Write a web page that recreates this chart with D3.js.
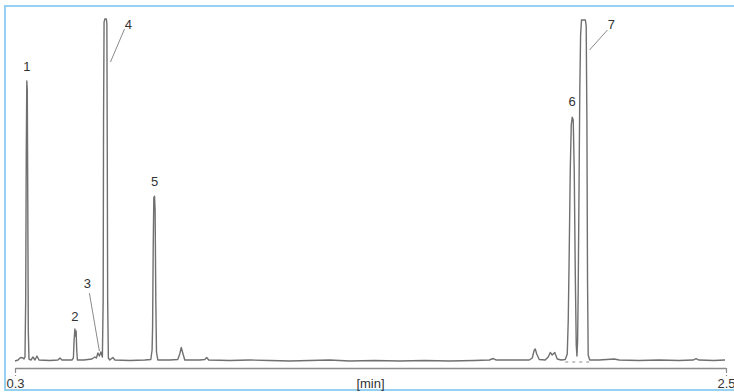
<!DOCTYPE html>
<html>
<head>
<meta charset="utf-8">
<script src="https://cdn.jsdelivr.net/npm/d3@7/dist/d3.min.js"></script>
<style>
  html, body { margin: 0; padding: 0; background: #ffffff; }
  svg { display: block; }
  text { font-family: "Liberation Sans", Arial, sans-serif; }
</style>
</head>
<body>
<script>
// ---- Data ----
// retention time in minutes
const times = [
  0.3000, 0.3093, 0.3154, 0.3185, 0.3247, 0.3278, 0.3309, 0.3331, 0.3349, 0.3365,
  0.3380, 0.3395, 0.3411, 0.3433, 0.3494, 0.3556, 0.3618, 0.3680, 0.3742, 0.4081,
  0.4329, 0.4390, 0.4452, 0.4699, 0.4761, 0.4807, 0.4829, 0.4854, 0.4872, 0.4891,
  0.4910, 0.4931, 0.5132, 0.5379, 0.5472, 0.5518, 0.5565, 0.5611, 0.5657, 0.5704,
  0.5728, 0.5740, 0.5756, 0.5781, 0.5827, 0.5843, 0.5855, 0.5867, 0.5889, 0.5935,
  0.6028, 0.6090, 0.6553, 0.7017, 0.7202, 0.7242, 0.7258, 0.7276, 0.7295, 0.7317,
  0.7335, 0.7357, 0.7378, 0.7419, 0.7789, 0.8036, 0.8098, 0.8144, 0.8191, 0.8253,
  0.8716, 0.8871, 0.8932, 0.8994, 0.9643, 1.0261, 1.0879, 1.1497, 1.2115, 1.2733,
  1.3351, 1.4124, 1.4896, 1.5668, 1.6441, 1.7213, 1.7677, 1.7800, 1.7893, 1.8449,
  1.8913, 1.9005, 1.9067, 1.9098, 1.9144, 1.9222, 1.9407, 1.9500, 1.9562, 1.9624,
  1.9701, 1.9778, 1.9902, 2.0026, 2.0088, 2.0119, 2.0150, 2.0181, 2.0212, 2.0242,
  2.0273, 2.0304, 2.0335, 2.0366, 2.0388, 2.0409, 2.0427, 2.0452, 2.0476, 2.0501,
  2.0529, 2.0649, 2.0674, 2.0696, 2.0715, 2.0736, 2.0783, 2.1076, 2.1540, 2.1694,
  2.2311, 2.2930, 2.3547, 2.3980, 2.4073, 2.4165, 2.4628, 2.4969
];
// detector signal (relative, % of full scale)
const signal = [
  0.00, 0.29, 0.88, 1.02, 0.88, 0.58, 1.17, 17.8, 61.7, 81.9,
  79.2, 47.1, 9.06, 0.58, 0.29, 1.17, 0.29, 1.46, 0.29, 0.15,
  0.29, 0.88, 0.29, 0.29, 0.29, 0.88, 6.14, 9.36, 7.31, 8.77,
  3.22, 0.29, 0.29, 0.58, 1.17, 0.88, 2.34, 1.46, 2.63, 1.17,
  17.8, 70.5, 99.1, 100, 100, 98.5, 61.7, 17.8, 0.88, 0.29,
  1.02, 0.29, 0.15, 0.29, 0.44, 3.22, 10.2, 32.5, 47.7, 48.2,
  44.2, 17.8, 2.63, 0.29, 0.29, 0.44, 2.05, 3.95, 2.34, 0.29,
  0.29, 0.44, 1.02, 0.29, 0.15, 0.29, 0.15, 0.00, 0.15, 0.29,
  0.00, 0.15, 0.00, 0.15, 0.00, 0.15, 0.29, 0.73, 0.29, 0.29,
  0.29, 0.88, 3.22, 3.51, 2.05, 0.44, 0.29, 1.17, 2.49, 1.75,
  2.49, 0.58, 0.29, 0.44, 2.05, 12.0, 32.5, 55.8, 69.0, 71.3,
  70.5, 55.8, 26.6, 4.68, 1.46, 6.14, 20.8, 50.0, 79.2, 95.3,
  99.7, 99.7, 98.0, 70.5, 23.7, 1.75, 0.29, 0.29, 0.58, 0.29,
  0.15, 0.29, 0.15, 0.29, 0.73, 0.29, 0.15, 0.29
];
// numbered peaks
const peakNames   = ["1", "2", "3", "4", "5", "6", "7"];
const peakTimes   = [0.3365, 0.4854, 0.5611, 0.5800, 0.7317, 2.0242, 2.0590];
const peakHeights = [81.9, 9.36, 2.3, 100, 48.2, 71.3, 99.7];
// integration baseline under peaks 6/7
const baselineStart = 2.0026;
const baselineEnd   = 2.0783;
// axis
const xTicks = [0.3, 2.5];
const xTickLabels = ["0.3", "2.5"];
const xTitle = "[min]";

// ---- Layout ----
const W = 734, H = 392;
const svg = d3.select("body").append("svg").attr("width", W).attr("height", H);

const x = d3.scaleLinear().domain([0.3, 2.5]).range([15, 726]);
const y = d3.scaleLinear().domain([0, 100]).range([361, 19]);
const axisY = 368;

// frame (light blue, open to the right)
svg.append("rect")
  .attr("x", 5).attr("y", 6).attr("width", 760).attr("height", 384)
  .attr("fill", "none").attr("stroke", "#96d1f1").attr("stroke-width", 2);

// integration baseline (dashed)
svg.append("line")
  .attr("x1", x(baselineStart)).attr("x2", x(baselineEnd))
  .attr("y1", y(0) + 1).attr("y2", y(0) + 1)
  .attr("stroke", "#8a8a8a").attr("stroke-width", 1.2)
  .attr("stroke-dasharray", "3,4");

// trace
const pts = times.map((t, i) => [t, signal[i]]);
const line = d3.line().x(d => x(d[0])).y(d => y(d[1]));
svg.append("path")
  .datum(pts)
  .attr("d", line)
  .attr("fill", "none")
  .attr("stroke", "#707070")
  .attr("stroke-width", 1.4)
  .attr("stroke-linejoin", "round");

// x axis
const axis = d3.axisBottom(x).tickValues(xTicks)
  .tickFormat((d, i) => xTickLabels[i]).tickSize(10).tickSizeOuter(0);
const gAxis = svg.append("g").attr("transform", `translate(0,${axisY})`).call(axis);
gAxis.select(".domain").attr("stroke", "#8c8c8c").attr("stroke-width", 1.5);
gAxis.selectAll(".tick line").attr("stroke", "#8c8c8c").attr("stroke-width", 1.2)
  .attr("stroke-dasharray", "5,2,1,2");
gAxis.selectAll(".tick text")
  .attr("y", 20).attr("dy", 0)
  .attr("fill", "#333").attr("font-size", 13)
  .attr("font-family", "Liberation Sans, Arial, sans-serif");

svg.append("text")
  .attr("x", (x.range()[0] + x.range()[1]) / 2).attr("y", axisY + 20)
  .attr("text-anchor", "middle").attr("font-size", 13).attr("fill", "#333")
  .text(xTitle);

// peak labels: offsets (pixels) of label and leader lines
const labelLayout = {
  "1": { dx: 0,   dy: -10 },
  "2": { dx: 0,   dy: -8 },
  "3": { dx: -12, dy: -65, leader: [[-10, -60], [0, -2]] },
  "4": { dx: 23,  dy: 10,  leader: [[19, 10], [5, 43]] },
  "5": { dx: 0,   dy: -10 },
  "6": { dx: 0,   dy: -11 },
  "7": { dx: 28,  dy: 9,   leader: [[24, 10], [6, 30]] }
};

peakNames.forEach((name, i) => {
  const px = x(peakTimes[i]), py = y(peakHeights[i]);
  const L = labelLayout[name];
  if (L.leader) {
    svg.append("line")
      .attr("x1", px + L.leader[0][0]).attr("y1", py + L.leader[0][1])
      .attr("x2", px + L.leader[1][0]).attr("y2", py + L.leader[1][1])
      .attr("stroke", "#8a8a8a").attr("stroke-width", 1);
  }
  svg.append("text")
    .attr("x", px + L.dx).attr("y", py + L.dy)
    .attr("text-anchor", "middle").attr("font-size", 13).attr("fill", "#333")
    .text(name);
});
</script>
</body>
</html>
